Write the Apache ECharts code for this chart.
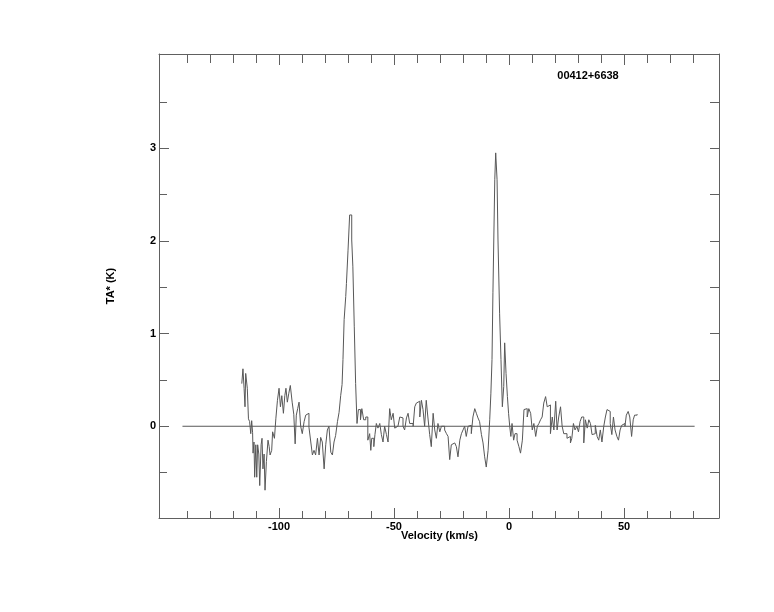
<!DOCTYPE html>
<html>
<head>
<meta charset="utf-8">
<script src="https://cdn.jsdelivr.net/npm/echarts@6/dist/echarts.min.js"></script>
<style>
  html, body { margin: 0; padding: 0; background: #fff; }
  #chart { width: 774px; height: 612px; }
</style>
</head>
<body>
<div id="chart"></div>
<script>
// Channel left edges (km/s) and antenna temperature TA* (K)
const velocity = [
  -116.2,-115.7,-115.2,-114.8,-114.5,-113.8,-113.3,-112.8,-112.3,-111.9,-111.5,-111.3,-110.9,-110.6,-110.1,
  -109.7,-109.3,-108.8,-108.4,-107.8,-107.4,-107.0,-106.5,-106.1,-105.5,-104.8,-104.3,-103.9,-103.2,-102.8,
  -102.0,-101.4,-100.7,-100.0,-99.4,-98.8,-98.1,-97.5,-97.0,-96.4,-95.8,-95.1,-94.3,-93.6,-93.0,
  -92.5,-91.9,-91.3,-90.6,-89.9,-89.1,-88.4,-87.7,-87.0,-86.2,-85.5,-84.8,-84.1,-83.3,-82.6,
  -81.9,-81.2,-80.4,-79.7,-79.0,-78.3,-77.5,-76.8,-76.1,-75.4,-74.6,-73.9,-73.2,-72.6,-72.2,
  -71.7,-71.0,-70.7,-70.0,-69.3,-68.4,-67.9,-67.3,-66.7,-66.1,-65.5,-64.6,-64.0,-63.2,-62.3,
  -61.4,-60.6,-60.1,-59.7,-58.8,-58.3,-57.7,-57.0,-56.2,-55.5,-54.8,-54.1,-53.3,-52.6,-51.9,
  -51.2,-50.4,-49.7,-49.0,-48.3,-47.5,-46.8,-46.1,-45.4,-44.6,-43.9,-43.2,-42.5,-41.7,-41.0,
  -40.3,-39.6,-38.8,-38.1,-37.4,-36.7,-36.0,-35.3,-34.5,-33.8,-33.0,-32.3,-31.6,-30.9,-30.1,
  -29.4,-28.7,-28.0,-27.2,-26.5,-25.8,-25.1,-24.3,-23.6,-22.9,-22.2,-21.4,-20.7,-20.0,-19.3,
  -18.6,-17.8,-17.1,-16.4,-15.7,-14.9,-14.2,-13.5,-12.8,-12.0,-11.3,-10.6,-9.9,-9.1,-8.4,
  -7.9,-7.4,-7.0,-6.2,-5.8,-5.2,-4.8,-4.1,-3.5,-2.9,-2.3,-1.9,-1.3,-0.7,-0.2,
  0.3,0.8,1.3,2.0,2.6,3.5,4.3,5.0,5.8,6.5,7.2,7.9,8.6,9.4,10.1,
  10.8,11.6,12.3,13.0,13.7,14.4,15.1,15.9,16.6,17.4,18.0,18.8,19.5,20.3,20.9,
  21.6,22.4,23.1,23.8,25.2,25.9,26.7,27.3,28.0,28.7,29.5,30.2,30.9,31.6,32.5,
  33.2,34.0,34.7,35.4,36.1,36.8,37.5,38.3,39.0,39.7,40.4,41.2,41.9,42.6,43.3,
  44.0,44.7,45.4,46.1,46.9,47.6,48.3,49.0,49.7,50.4,51.0,51.8,52.5,53.3,54.0,
  54.6,55.7
];
const ta = [
  0.46,0.62,0.41,0.21,0.57,0.41,0.08,0.05,-0.08,0.06,-0.07,-0.29,-0.17,-0.55,-0.20,
  -0.55,-0.20,-0.30,-0.64,-0.20,-0.13,-0.46,-0.30,-0.69,-0.38,-0.15,-0.22,-0.31,-0.26,-0.06,
  -0.13,0.08,0.28,0.41,0.21,0.33,0.14,0.33,0.41,0.26,0.35,0.44,0.26,0.13,-0.19,
  0.12,0.19,0.26,0.00,-0.08,0.05,0.12,0.14,-0.01,-0.17,-0.31,-0.26,-0.31,-0.13,-0.31,
  -0.12,-0.17,-0.46,-0.20,-0.04,0.00,-0.28,-0.31,-0.17,-0.10,0.05,0.15,0.33,0.45,0.72,
  1.15,1.40,1.54,1.90,2.28,2.01,1.72,1.08,0.46,0.03,0.18,0.07,0.19,0.07,0.10,
  -0.15,-0.08,-0.26,-0.13,-0.22,-0.09,0.03,-0.02,0.03,-0.09,-0.17,0.00,-0.09,-0.17,0.19,
  0.07,0.14,-0.02,0.00,0.01,0.10,0.09,0.00,-0.04,0.09,0.14,0.03,0.03,0.00,0.21,
  0.25,0.27,0.10,0.28,0.18,0.00,0.28,0.10,-0.09,-0.22,0.14,-0.04,-0.13,0.03,-0.06,
  0.00,0.00,-0.04,-0.08,-0.11,-0.36,-0.20,-0.18,-0.17,-0.22,-0.33,-0.15,-0.08,-0.04,0.00,
  -0.11,0.00,0.01,-0.08,0.10,0.19,0.14,0.09,0.05,-0.09,-0.18,-0.33,-0.44,-0.26,0.07,
  0.35,0.72,1.44,2.66,2.95,2.66,2.01,1.22,0.72,0.21,0.43,0.90,0.57,0.32,0.14,
  0.00,-0.11,0.03,-0.15,-0.08,-0.15,-0.22,-0.29,-0.15,0.18,0.19,0.10,0.19,0.14,-0.04,
  0.03,-0.11,0.00,0.03,0.07,0.10,0.25,0.32,0.21,0.23,-0.08,0.10,-0.04,0.27,-0.04,
  0.10,0.21,0.00,-0.08,-0.13,-0.11,-0.18,-0.13,0.03,-0.04,0.00,-0.06,0.05,0.10,-0.18,
  0.07,-0.02,0.07,0.03,-0.09,-0.08,0.01,-0.11,-0.15,-0.04,-0.17,0.00,0.10,0.18,0.16,
  0.03,-0.09,0.10,-0.04,-0.11,-0.15,-0.04,0.01,0.03,0.00,0.12,0.16,0.10,-0.11,0.07,
  0.12,0.13
];
const baselineVel = [-142, 80.7];
const baselineTa = [0, 0];
const xMajorTicks = [-100, -50, 0, 50];
const xMinorTicks = [-140, -130, -120, -110, -90, -80, -70, -60, -40, -30, -20, -10, 10, 20, 30, 40, 60, 70, 80];
const yMajorTicks = [0, 1, 2, 3];
const yMinorTicks = [-0.5, 0.5, 1.5, 2.5, 3.5];
const titleText = '00412+6638';
const xTitle = 'Velocity (km/s)';
const yTitle = 'TA* (K)';

const XMIN = -152.2, XMAX = 91.3, YMIN = -0.99, YMAX = 4.017;
const frameColor = '#606060';
const lineColor = '#585858';
const font = { fontFamily: 'Liberation Sans', fontWeight: 'bold', fontSize: 11, color: '#000' };

function xAx(pos, ticks, len, showLine, labels) {
  return {
    type: 'value', position: pos, min: XMIN, max: XMAX,
    splitLine: { show: false },
    axisLine: { show: showLine, onZero: false, lineStyle: { color: frameColor, width: 1 } },
    axisTick: { show: true, inside: true, length: len, customValues: ticks, lineStyle: { color: frameColor, width: 1 } },
    axisLabel: labels ? Object.assign({ show: true, margin: 3, customValues: ticks }, font) : { show: false }
  };
}
function yAx(pos, ticks, len, showLine, labels) {
  return {
    type: 'value', position: pos, min: YMIN, max: YMAX,
    splitLine: { show: false },
    axisLine: { show: showLine, onZero: false, lineStyle: { color: frameColor, width: 1 } },
    axisTick: { show: true, inside: true, length: len, customValues: ticks, lineStyle: { color: frameColor, width: 1 } },
    axisLabel: labels ? Object.assign({ show: true, margin: 3, customValues: ticks }, font) : { show: false }
  };
}

const chart = echarts.init(document.getElementById('chart'), null, { renderer: 'canvas' });
chart.setOption({
  animation: false,
  backgroundColor: '#fff',
  grid: { left: 159, top: 54, width: 560, height: 464, containLabel: false },
  xAxis: [
    xAx('bottom', xMajorTicks, 10, true, true),
    xAx('bottom', xMinorTicks, 7, false, false),
    xAx('top', xMajorTicks, 11, true, false),
    xAx('top', xMinorTicks, 9, false, false)
  ],
  yAxis: [
    yAx('left', yMajorTicks, 10, true, true),
    yAx('left', yMinorTicks, 8, false, false),
    yAx('right', yMajorTicks, 9, true, false),
    yAx('right', yMinorTicks, 9, false, false)
  ],
  series: [
    {
      type: 'line', xAxisIndex: 0, yAxisIndex: 0, step: 'end', showSymbol: false, symbol: 'none',
      lineStyle: { color: lineColor, width: 1 },
      data: velocity.map((v, i) => [v, ta[i]])
    },
    {
      type: 'line', xAxisIndex: 0, yAxisIndex: 0, showSymbol: false, symbol: 'none',
      lineStyle: { color: lineColor, width: 1 },
      data: baselineVel.map((v, i) => [v, baselineTa[i]])
    }
  ],
  graphic: [
    { type: 'text', x: 588, y: 76, style: Object.assign({ text: titleText, align: 'center', verticalAlign: 'middle', fill: '#000' }, { font: 'bold 11px "Liberation Sans"' }) },
    { type: 'text', x: 439.5, y: 536, style: { text: xTitle, align: 'center', verticalAlign: 'middle', fill: '#000', font: 'bold 11px "Liberation Sans"' } },
    { type: 'text', x: 111, y: 286, rotation: Math.PI / 2, style: { text: yTitle, align: 'center', verticalAlign: 'middle', fill: '#000', font: 'bold 11px "Liberation Sans"' } }
  ]
});
</script>
</body>
</html>
